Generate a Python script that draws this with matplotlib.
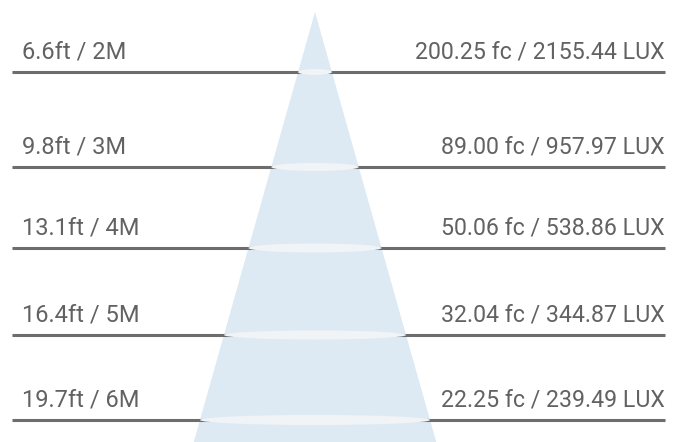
import matplotlib.pyplot as plt
from matplotlib.patches import Polygon, Ellipse

plt.rcParams['font.family'] = ['Roboto', 'DejaVu Sans']

# beam spread data
distance_ft = ["6.6ft", "9.8ft", "13.1ft", "16.4ft", "19.7ft"]
distance_m = ["2M", "3M", "4M", "5M", "6M"]
footcandles = ["200.25", "89.00", "50.06", "32.04", "22.25"]
lux = ["2155.44", "957.97", "538.86", "344.87", "239.49"]

# layout (pixel coords)
W, H = 685, 442
apex = (315, 12)
slope = 0.282  # half width per px of drop
line_y = [72, 167, 248, 335, 420]
ell_h = [6, 8, 9, 9, 10]

fig = plt.figure(figsize=(W / 100, H / 100), dpi=100)
ax = fig.add_axes([0, 0, 1, 1])
ax.set_xlim(0, W)
ax.set_ylim(H, 0)
ax.axis('off')

# cone
hw = (H - apex[1]) * slope
ax.add_patch(Polygon([apex, (apex[0] - hw, H), (apex[0] + hw, H)],
                     closed=True, facecolor='#ddeaf4', edgecolor='none', zorder=1))

for i, y in enumerate(line_y):
    ax.plot([12, 665], [y, y], color='#6d6d6d', lw=2.2, zorder=2, solid_capstyle='butt')
    w = (y - apex[1]) * slope * 2
    ax.add_patch(Ellipse((apex[0], y), w, ell_h[i], facecolor='#f1f4f6',
                         edgecolor='none', zorder=3))
    ax.text(22, y - 20, f"{distance_ft[i]} / {distance_m[i]}", fontsize=17,
            color='#626262', ha='left', va='center', zorder=4)
    ax.text(665, y - 20, f"{footcandles[i]} fc / {lux[i]} LUX", fontsize=16.7,
            color='#626262', ha='right', va='center', zorder=4)

fig.savefig('out.png', dpi=100, facecolor='white')
